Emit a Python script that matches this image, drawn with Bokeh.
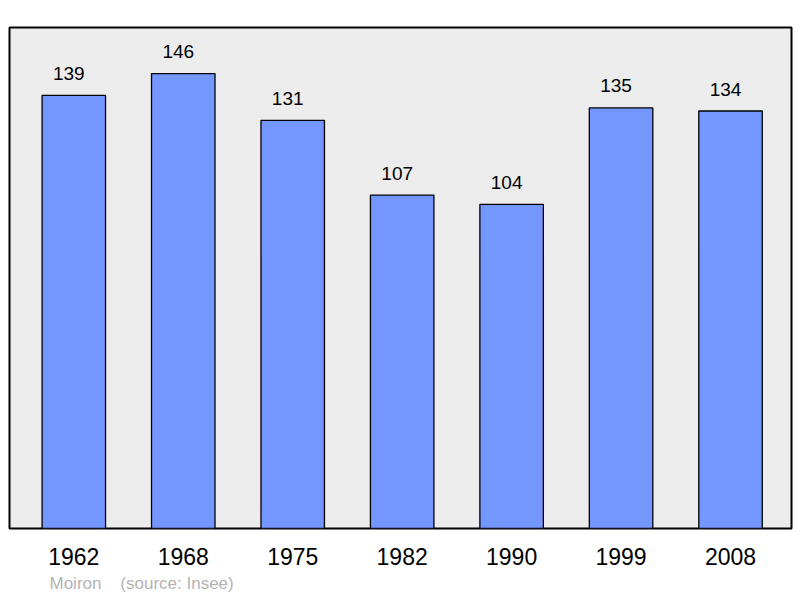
from bokeh.plotting import figure
from bokeh.models import Range1d, LinearAxis, FixedTicker, Title, ColumnDataSource
from bokeh.embed import file_html
from bokeh.resources import INLINE
from bokeh.core.properties import value

years = ["1962", "1968", "1975", "1982", "1990", "1999", "2008"]
population = [139, 146, 131, 107, 104, 135, 134]
place = "Moiron"
source_note = "(source: Insee)"

idx = list(range(len(years)))
src = ColumnDataSource(dict(x=idx, top=population, lab=[str(v) for v in population]))

p = figure(width=800, height=598, output_backend="svg", toolbar_location=None,
           x_axis_type=None, y_axis_type=None,
           x_range=Range1d(-0.5875, 6.557), y_range=Range1d(0, 160.8),
           min_border_left=9, min_border_right=9, min_border_top=27, min_border_bottom=70)
p.background_fill_color = "#ececec"
p.border_fill_color = "white"
p.outline_line_color = "black"
p.outline_line_width = 2
p.xgrid.visible = False
p.ygrid.visible = False

p.vbar(x="x", top="top", bottom=0, width=0.58, source=src,
       fill_color="#7396ff", line_color="black", line_width=1.3)
p.text(x="x", y="top", text="lab", source=src, text_align="center",
       text_baseline="alphabetic", y_offset=-22, x_offset=-5,
       text_font=value("Liberation Sans"), text_font_size="19px", text_color="black")

ax = LinearAxis(ticker=FixedTicker(ticks=idx),
                major_label_overrides={i: y for i, y in zip(idx, years)})
ax.axis_line_color = None
ax.major_tick_line_color = None
ax.minor_tick_line_color = None
ax.major_label_text_font = "Liberation Sans"
ax.major_label_text_font_size = "23px"
ax.major_label_text_color = "black"
ax.major_label_standoff = 13
p.add_layout(ax, "below")

footer = Title(text=place + "\u00a0\u00a0\u00a0\u00a0" + source_note, align="left", offset=40,
               standoff=9, text_font="Liberation Sans", text_font_size="17px",
               text_font_style="normal", text_color="#b3b3b3")
p.add_layout(footer, "below")

open("out.html", "w").write(file_html(p, INLINE))
